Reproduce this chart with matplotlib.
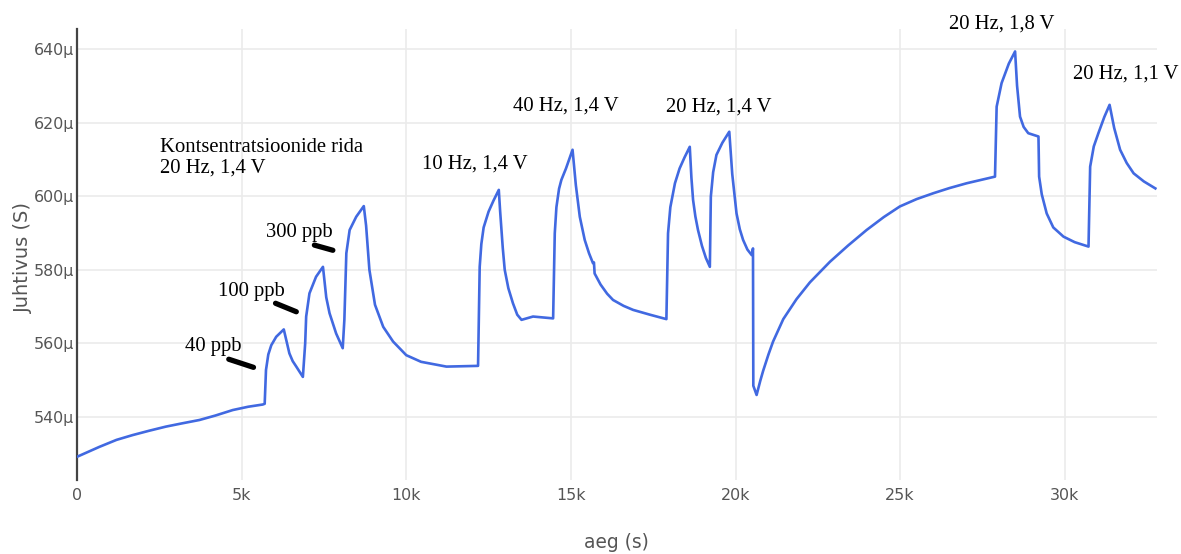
import matplotlib
matplotlib.use("Agg")
import matplotlib.pyplot as plt
from matplotlib.ticker import FuncFormatter, FixedLocator

# Measured conductance over time (time in s, conductance in µS)
time_s = [
    0, 300, 680, 1200, 1690, 2200, 2700, 3200, 3720, 4200, 4730, 5200, 5640, 5700,
    5740, 5810, 5900, 6050, 6280, 6450, 6550, 6660, 6860, 6930, 6960, 7060, 7260, 7470,
    7570, 7670, 7870, 8070, 8120, 8180, 8280, 8480, 8710, 8780, 8880, 9050, 9300, 9600,
    10000, 10450, 11220, 12180, 12230, 12280, 12350, 12500, 12650, 12810, 12850, 12930,
    12990, 13100, 13240, 13370, 13500, 13850, 14460, 14510, 14560, 14640, 14710, 14850,
    15050, 15150, 15270, 15420, 15550, 15670, 15700, 15720, 15900, 16100, 16280, 16600,
    16890, 17400, 17900, 17950, 18020, 18160, 18300, 18450, 18610, 18660, 18710, 18780,
    18860, 18980, 19100, 19220, 19250, 19320, 19420, 19600, 19810, 19900, 20030, 20130,
    20230, 20360, 20490, 20530, 20540, 20640, 20750, 20840, 21000, 21140, 21450, 21850,
    22260, 22870, 23420, 23980, 24500, 24990, 25500, 26010, 26500, 27020, 27500, 27880,
    27930, 28080, 28300, 28490, 28550, 28640, 28750, 28890, 29200, 29220, 29300, 29450,
    29650, 29960, 30300, 30720, 30770, 30880, 31020, 31200, 31360, 31500, 31680, 31880,
    32090, 32400, 32750,
]
conductance_uS = [
    529.2, 530.4, 531.9, 533.8, 535.1, 536.3, 537.4, 538.3, 539.2, 540.4, 541.9, 542.8,
    543.4, 543.6, 552.8, 557.0, 559.5, 561.8, 563.8, 557.3, 555.2, 553.7, 550.9, 560.0,
    567.3, 573.6, 578.1, 580.8, 572.5, 568.2, 562.7, 558.7, 566.4, 584.5, 590.8, 594.4,
    597.3, 592.0, 580.0, 570.5, 564.5, 560.5, 556.8, 555.0, 553.7, 553.9, 580.8, 587.0,
    591.5, 595.8, 598.8, 601.7, 596.0, 586.0, 580.0, 575.0, 570.9, 567.8, 566.4, 567.3,
    566.8, 589.9, 597.0, 602.0, 604.4, 607.5, 612.6, 603.0, 594.4, 588.1, 584.5, 581.8,
    582.0, 579.0, 576.0, 573.5, 571.8, 570.2, 569.1, 567.8, 566.6, 589.9, 597.0, 603.5,
    607.5, 610.5, 613.4, 605.0, 599.0, 594.5, 590.8, 586.5, 583.2, 580.8, 599.9, 606.5,
    611.2, 614.5, 617.5, 606.0, 595.3, 591.0, 588.1, 585.5, 584.0, 585.8, 548.5, 546.0,
    549.8, 552.6, 557.0, 560.5, 566.6, 572.0, 576.6, 582.2, 586.6, 590.8, 594.3, 597.2,
    599.2, 600.8, 602.2, 603.5, 604.5, 605.3, 624.3, 630.7, 636.0, 639.3, 630.0, 621.6,
    618.8, 617.1, 616.2, 605.3, 600.5, 595.3, 591.5, 589.0, 587.5, 586.3, 608.0, 613.5,
    617.1, 621.5, 624.8, 618.5, 612.6, 609.0, 606.2, 604.0, 602.1,
]

# Text labels placed over the curve
label_texts = [
    "Kontsentratsioonide rida\n20 Hz, 1,4 V",
    "300 ppb", "100 ppb", "40 ppb",
    "10 Hz, 1,4 V", "40 Hz, 1,4 V", "20 Hz, 1,4 V", "20 Hz, 1,8 V", "20 Hz, 1,1 V",
]
label_x = [2530, 6760, 5300, 4130, 12080, 14860, 19490, 28080, 31860]
label_y = [610.4, 590.0, 574.1, 559.1, 608.7, 624.5, 624.2, 646.8, 633.2]

# Short pointer strokes next to the concentration labels: (x0, x1), (y0, y1)
pointer_x = [(7210, 7770), (6030, 6660), (4610, 5360)]
pointer_y = [(586.7, 585.3), (570.9, 568.6), (555.7, 553.5)]

x_ticks = [0, 5000, 10000, 15000, 20000, 25000, 30000]
y_ticks = [540, 560, 580, 600, 620, 640]

W, H = 1181, 554
fig = plt.figure(figsize=(W / 100, H / 100), dpi=100)
ax = fig.add_axes([77 / W, 1 - 480 / H, (1157 - 77) / W, (480 - 29) / H])

ax.plot(time_s, conductance_uS, color="#4169E1", lw=1.9, solid_joinstyle="round", zorder=3)

ax.set_xlim(0, 32800)
ax.set_ylim(522.9, 645.4)
ax.xaxis.set_major_locator(FixedLocator(x_ticks))
ax.yaxis.set_major_locator(FixedLocator(y_ticks))
ax.xaxis.set_major_formatter(FuncFormatter(lambda v, p: "0" if v == 0 else f"{v/1000:.0f}k"))
ax.yaxis.set_major_formatter(FuncFormatter(lambda v, p: f"{v:.0f}\u03bc"))
ax.grid(True, color="#ebebeb", lw=1.2, zorder=0)
ax.set_axisbelow(True)

for side in ("top", "right", "bottom"):
    ax.spines[side].set_visible(False)
ax.spines["left"].set_color("#444444")
ax.spines["left"].set_linewidth(1.6)
ax.tick_params(axis="both", length=0, labelsize=11.4, labelcolor="#555555")
ax.tick_params(axis="y", pad=2)
ax.tick_params(axis="x", pad=6)

serif = ["Liberation Serif", "DejaVu Serif"]
for i, (txt, lx, ly) in enumerate(zip(label_texts, label_x, label_y)):
    ha = "left" if i == 0 else "center"
    ax.text(lx, ly, txt, ha=ha, va="center", family=serif, fontsize=14.9,
            color="black", linespacing=1.1, clip_on=False, zorder=4)

for (x0, x1), (y0, y1) in zip(pointer_x, pointer_y):
    ax.plot([x0, x1], [y0, y1], color="black", lw=3.8, solid_capstyle="round",
            clip_on=False, zorder=4)

fig.text(23 / W, 1 - 257.5 / H, "Juhtivus (S)", rotation=90, ha="center", va="center",
         fontsize=14, color="#555555")
fig.text(616 / W, 1 - 543 / H, "aeg (s)", ha="center", va="center",
         fontsize=13.4, color="#555555")

fig.savefig("out.png", dpi=100, facecolor="white")
